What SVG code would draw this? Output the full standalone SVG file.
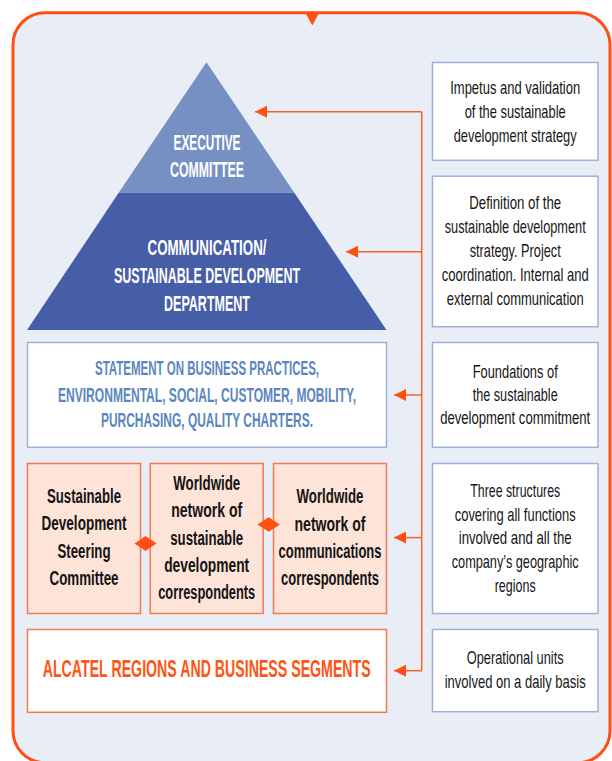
<svg xmlns="http://www.w3.org/2000/svg" width="612" height="761" viewBox="0 0 612 761">
<defs>
<style>
text { font-family: 'Liberation Sans', Arial, sans-serif; text-anchor: middle; }
.rt { font-size: 13px; fill: #151515; }
.pk { font-size: 13px; font-weight: bold; fill: #141414; }
.py { font-size: 12px; font-weight: bold; fill: #ffffff; }
.st { font-size: 12px; font-weight: bold; fill: #5A86C0; }
.al { font-size: 14px; font-weight: bold; fill: #FF5512; }
.rbox { fill: #ffffff; stroke: #9DB0DA; stroke-width: 1.5; }
.pbox { fill: #FEE3D9; stroke: #F47A50; stroke-width: 1.5; }
.conn { fill: none; stroke: #F8602A; stroke-width: 1.5; }
.dia { fill: #FF5011; }
</style>
<marker id="arr" viewBox="0 0 12 12" refX="12" refY="6" markerWidth="12" markerHeight="12" markerUnits="userSpaceOnUse" orient="auto">
<path d="M0,0 L12,6 L0,12 z" fill="#FF5011"/>
</marker>
</defs>

<g id="frame">
<rect x="13" y="12.7" width="597" height="750" rx="32" ry="32" fill="#E9EDF6" stroke="#FF5014" stroke-width="3"/>
<polygon points="305,12 319.5,12 312.3,25.5" fill="#FF5014"/>
</g>

<g id="pyramid-executive">
<polygon points="206.5,62.3 294.3,192.7 118.7,192.7" fill="#7690C3"/>
<text class="py" transform="translate(207,150) scale(1,1.79)" textLength="67" lengthAdjust="spacingAndGlyphs">EXECUTIVE</text>
<text class="py" transform="translate(207,176.7) scale(1,1.79)" textLength="74" lengthAdjust="spacingAndGlyphs">COMMITTEE</text>
</g>

<g id="pyramid-department">
<polygon points="118.7,192.7 294.3,192.7 386.5,330 27,330" fill="#465DA8"/>
<text class="py" transform="translate(207,255) scale(1,1.79)" textLength="119" lengthAdjust="spacingAndGlyphs">COMMUNICATION/</text>
<text class="py" transform="translate(207,283.3) scale(1,1.79)" textLength="186" lengthAdjust="spacingAndGlyphs">SUSTAINABLE DEVELOPMENT</text>
<text class="py" transform="translate(207,311) scale(1,1.79)" textLength="86" lengthAdjust="spacingAndGlyphs">DEPARTMENT</text>
</g>

<g id="statement">
<rect class="rbox" x="27.5" y="342.5" width="359" height="104.8"/>
<text class="st" transform="translate(207,375) scale(1,1.625)" textLength="224" lengthAdjust="spacingAndGlyphs">STATEMENT ON BUSINESS PRACTICES,</text>
<text class="st" transform="translate(207,401.5) scale(1,1.625)" textLength="298" lengthAdjust="spacingAndGlyphs">ENVIRONMENTAL, SOCIAL, CUSTOMER, MOBILITY,</text>
<text class="st" transform="translate(207,426.7) scale(1,1.625)" textLength="212" lengthAdjust="spacingAndGlyphs">PURCHASING, QUALITY CHARTERS.</text>
</g>

<g id="steering-committee">
<rect class="pbox" x="27.5" y="463.5" width="113" height="150"/>
<text class="pk" transform="translate(84,503.3) scale(1,1.615)" textLength="74" lengthAdjust="spacingAndGlyphs">Sustainable</text>
<text class="pk" transform="translate(84,530.3) scale(1,1.615)" textLength="85" lengthAdjust="spacingAndGlyphs">Development</text>
<text class="pk" transform="translate(84,557.8) scale(1,1.615)" textLength="53" lengthAdjust="spacingAndGlyphs">Steering</text>
<text class="pk" transform="translate(84,585) scale(1,1.615)" textLength="69" lengthAdjust="spacingAndGlyphs">Committee</text>
</g>

<g id="sd-network">
<rect class="pbox" x="150.2" y="463.5" width="113" height="150"/>
<text class="pk" transform="translate(206.7,490) scale(1,1.615)" textLength="67" lengthAdjust="spacingAndGlyphs">Worldwide</text>
<text class="pk" transform="translate(206.7,516.7) scale(1,1.615)" textLength="71" lengthAdjust="spacingAndGlyphs">network of</text>
<text class="pk" transform="translate(206.7,545) scale(1,1.615)" textLength="73" lengthAdjust="spacingAndGlyphs">sustainable</text>
<text class="pk" transform="translate(206.7,572.3) scale(1,1.615)" textLength="85" lengthAdjust="spacingAndGlyphs">development</text>
<text class="pk" transform="translate(206.7,599.3) scale(1,1.615)" textLength="97" lengthAdjust="spacingAndGlyphs">correspondents</text>
</g>

<g id="comm-network">
<rect class="pbox" x="273.5" y="463.5" width="113" height="150"/>
<text class="pk" transform="translate(330,502.7) scale(1,1.615)" textLength="67" lengthAdjust="spacingAndGlyphs">Worldwide</text>
<text class="pk" transform="translate(330,531) scale(1,1.615)" textLength="71" lengthAdjust="spacingAndGlyphs">network of</text>
<text class="pk" transform="translate(330,558.3) scale(1,1.615)" textLength="103" lengthAdjust="spacingAndGlyphs">communications</text>
<text class="pk" transform="translate(330,585) scale(1,1.615)" textLength="98" lengthAdjust="spacingAndGlyphs">correspondents</text>
</g>

<g id="alcatel-regions">
<rect x="27.5" y="629.5" width="359" height="82.8" fill="#ffffff" stroke="#F47A50" stroke-width="1.5"/>
<text class="al" transform="translate(206.7,677.3) scale(1,1.7)" textLength="328" lengthAdjust="spacingAndGlyphs">ALCATEL REGIONS AND BUSINESS SEGMENTS</text>
</g>

<g id="note-impetus">
<rect class="rbox" x="432.5" y="62.5" width="165.5" height="97.8"/>
<text class="rt" transform="translate(515.2,94.3) scale(1,1.385)" textLength="130" lengthAdjust="spacingAndGlyphs">Impetus and validation</text>
<text class="rt" transform="translate(515.2,118.3) scale(1,1.385)" textLength="101" lengthAdjust="spacingAndGlyphs">of the sustainable</text>
<text class="rt" transform="translate(515.2,141.7) scale(1,1.385)" textLength="123" lengthAdjust="spacingAndGlyphs">development strategy</text>
</g>

<g id="note-definition">
<rect class="rbox" x="432.5" y="176.2" width="165.5" height="150.5"/>
<text class="rt" transform="translate(515.2,209.3) scale(1,1.385)" textLength="92" lengthAdjust="spacingAndGlyphs">Definition of the</text>
<text class="rt" transform="translate(515.2,233.3) scale(1,1.385)" textLength="141" lengthAdjust="spacingAndGlyphs">sustainable development</text>
<text class="rt" transform="translate(515.2,256.9) scale(1,1.385)" textLength="91" lengthAdjust="spacingAndGlyphs">strategy. Project</text>
<text class="rt" transform="translate(515.2,280.7) scale(1,1.385)" textLength="147" lengthAdjust="spacingAndGlyphs">coordination. Internal and</text>
<text class="rt" transform="translate(515.2,305) scale(1,1.385)" textLength="137" lengthAdjust="spacingAndGlyphs">external communication</text>
</g>

<g id="note-foundations">
<rect class="rbox" x="432.5" y="342.5" width="165.5" height="104.8"/>
<text class="rt" transform="translate(515.2,377.7) scale(1,1.385)" textLength="85" lengthAdjust="spacingAndGlyphs">Foundations of</text>
<text class="rt" transform="translate(515.2,401) scale(1,1.385)" textLength="85" lengthAdjust="spacingAndGlyphs">the sustainable</text>
<text class="rt" transform="translate(515.2,424.3) scale(1,1.385)" textLength="150" lengthAdjust="spacingAndGlyphs">development commitment</text>
</g>

<g id="note-structures">
<rect class="rbox" x="432.5" y="463.5" width="165.5" height="150"/>
<text class="rt" transform="translate(515.2,497.3) scale(1,1.385)" textLength="90" lengthAdjust="spacingAndGlyphs">Three structures</text>
<text class="rt" transform="translate(515.2,521) scale(1,1.385)" textLength="121" lengthAdjust="spacingAndGlyphs">covering all functions</text>
<text class="rt" transform="translate(515.2,544.3) scale(1,1.385)" textLength="113" lengthAdjust="spacingAndGlyphs">involved and all the</text>
<text class="rt" transform="translate(515.2,568.3) scale(1,1.385)" textLength="127" lengthAdjust="spacingAndGlyphs">company’s geographic</text>
<text class="rt" transform="translate(515.2,591.7) scale(1,1.385)" textLength="41" lengthAdjust="spacingAndGlyphs">regions</text>
</g>

<g id="note-operational">
<rect class="rbox" x="432.5" y="629.5" width="165.5" height="82.2"/>
<text class="rt" transform="translate(515.2,664.3) scale(1,1.385)" textLength="97" lengthAdjust="spacingAndGlyphs">Operational units</text>
<text class="rt" transform="translate(515.2,687.7) scale(1,1.385)" textLength="141" lengthAdjust="spacingAndGlyphs">involved on a daily basis</text>
</g>

<g id="connectors">
<path class="conn" d="M421.7,111.7 V670.7"/>
<path class="conn" d="M421.7,111.7 H255" marker-end="url(#arr)"/>
<path class="conn" d="M421.7,251.7 H346" marker-end="url(#arr)"/>
<path class="conn" d="M421.7,395 H394" marker-end="url(#arr)"/>
<path class="conn" d="M421.7,537.6 H394" marker-end="url(#arr)"/>
<path class="conn" d="M421.7,670.7 H394" marker-end="url(#arr)"/>
<polygon class="dia" points="134.5,543.5 145.5,536 156.5,543.5 145.5,551"/>
<polygon class="dia" points="257.5,524.5 268.7,517.2 279.9,524.5 268.7,531.8"/>
</g>
</svg>
